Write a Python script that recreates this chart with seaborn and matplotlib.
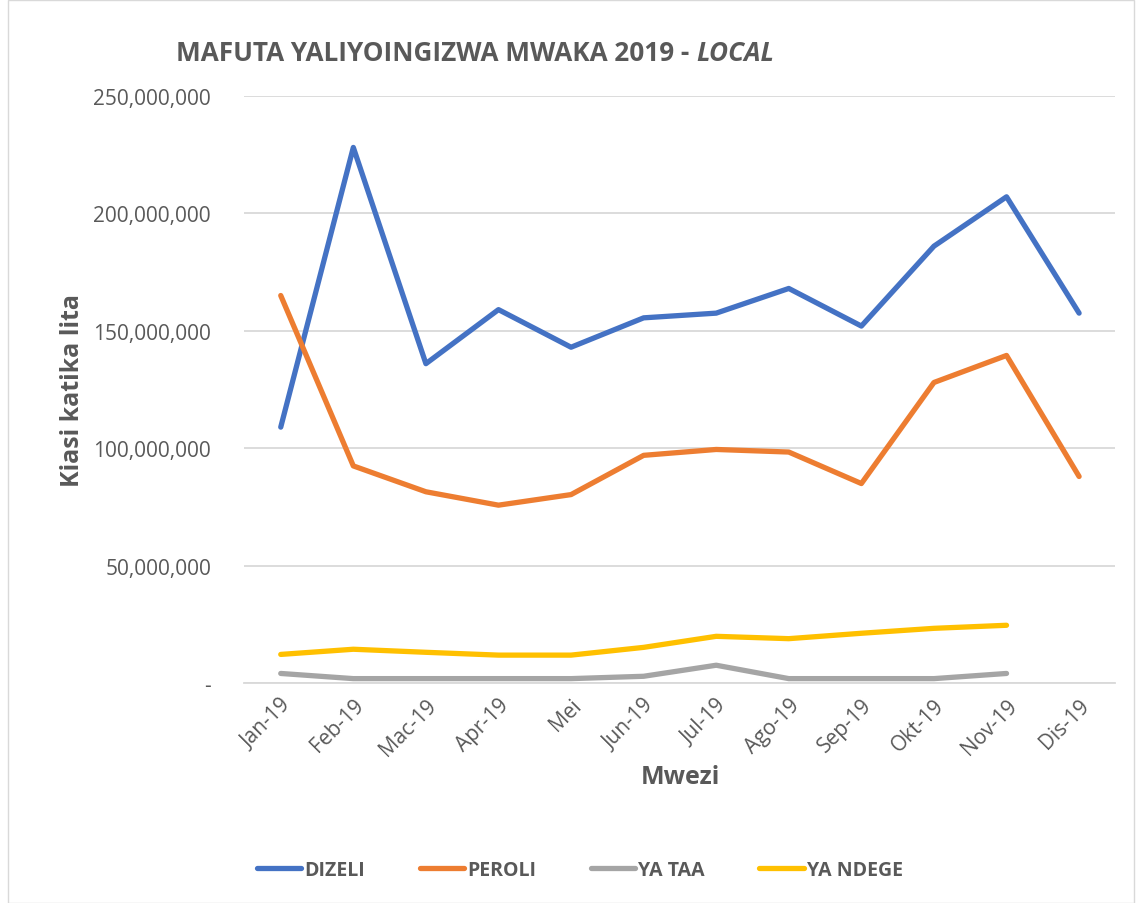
import numpy as np
import pandas as pd
import matplotlib.pyplot as plt
import seaborn as sns
from matplotlib.ticker import FuncFormatter

# ── Data (lita) ────────────────────────────────────────────
months = ['Jan-19', 'Feb-19', 'Mac-19', 'Apr-19', 'Mei', 'Jun-19',
          'Jul-19', 'Ago-19', 'Sep-19', 'Okt-19', 'Nov-19', 'Dis-19']
dizeli = [109e6, 228e6, 136e6, 159e6, 143e6, 155.5e6,
          157.5e6, 168e6, 152e6, 186e6, 207e6, 157.5e6]
peroli = [165e6, 92.5e6, 81.5e6, 75.8e6, 80.3e6, 97e6,
          99.5e6, 98.4e6, 85e6, 128e6, 139.5e6, 88e6]
ya_taa = [4.2e6, 2e6, 2e6, 2e6, 2e6, 3e6,
          7.7e6, 2e6, 2e6, 2e6, 4.2e6, np.nan]
ya_ndege = [12.3e6, 14.5e6, 13.2e6, 12e6, 12e6, 15.3e6,
            20e6, 19e6, 21.3e6, 23.4e6, 24.7e6, np.nan]

series = {'DIZELI': dizeli, 'PEROLI': peroli, 'YA TAA': ya_taa, 'YA NDEGE': ya_ndege}
palette = {'DIZELI': '#4472C4', 'PEROLI': '#ED7D31', 'YA TAA': '#A5A5A5', 'YA NDEGE': '#FFC000'}

rows = []
for name, vals in series.items():
    for i, v in enumerate(vals):
        rows.append({'idx': i, 'Aina': name, 'Lita': v})
df = pd.DataFrame(rows).dropna()

# ── Plot ───────────────────────────────────────────────────
sns.set_style('white')
plt.rcParams['font.family'] = ['Open Sans', 'DejaVu Sans']
txt = '#595959'

fig = plt.figure(figsize=(11.37, 9.04), dpi=100)
ax = fig.add_axes([0.215, 0.243, 0.766, 0.65])

sns.lineplot(data=df, x='idx', y='Lita', hue='Aina', palette=palette,
             linewidth=3.8, ax=ax, legend=False, solid_capstyle='round')

ax.set_xlim(-0.5, 11.5)
ax.set_ylim(0, 250e6)
ax.set_yticks(np.arange(0, 250e6 + 1, 50e6))
ax.yaxis.set_major_formatter(FuncFormatter(lambda v, p: '-' if v == 0 else f'{v:,.0f}'))
ax.set_xticks(range(len(months)))
ax.set_xticklabels(months, rotation=45, ha='right', rotation_mode='anchor')
ax.tick_params(axis='both', labelsize=15, colors=txt, length=0)
ax.tick_params(axis='x', pad=8)
ax.tick_params(axis='y', pad=24)
ax.grid(axis='y', color='#d9d9d9', linewidth=1.3)
ax.set_axisbelow(True)
for s in ['top', 'right', 'left']:
    ax.spines[s].set_visible(False)
ax.spines['bottom'].set_color('#d9d9d9')
ax.spines['bottom'].set_linewidth(1.3)

ax.set_xlabel('Mwezi', fontsize=18, fontweight='bold', color=txt, labelpad=3)
ax.set_ylabel('Kiasi katika lita', fontsize=18, fontweight='bold', color=txt, labelpad=6)

t1 = fig.text(0.155, 0.941, 'MAFUTA YALIYOINGIZWA MWAKA 2019 - ', fontsize=18.8,
              fontweight='bold', color=txt, ha='left', va='center')
ax.annotate('LOCAL', xy=(1, 0.5), xycoords=t1, ha='left', va='center',
            fontsize=18.8, fontweight='bold', style='italic', color=txt)

handles = [plt.Line2D([], [], color=palette[k], linewidth=3.8, solid_capstyle='round')
           for k in series]
leg = fig.legend(handles, list(series.keys()), loc='center', bbox_to_anchor=(0.51, 0.037),
                 ncol=4, frameon=False, handlelength=2.3, columnspacing=2.8, handletextpad=0.15,
                 prop={'size': 14, 'weight': 'bold'})
for t in leg.get_texts():
    t.set_color(txt)

fig.patches.append(plt.Rectangle((0.007, 0.0), 0.99, 0.999, transform=fig.transFigure,
                                 fill=False, edgecolor='#d9d9d9', linewidth=1))

plt.savefig('out.png', dpi=100)
plt.close()
